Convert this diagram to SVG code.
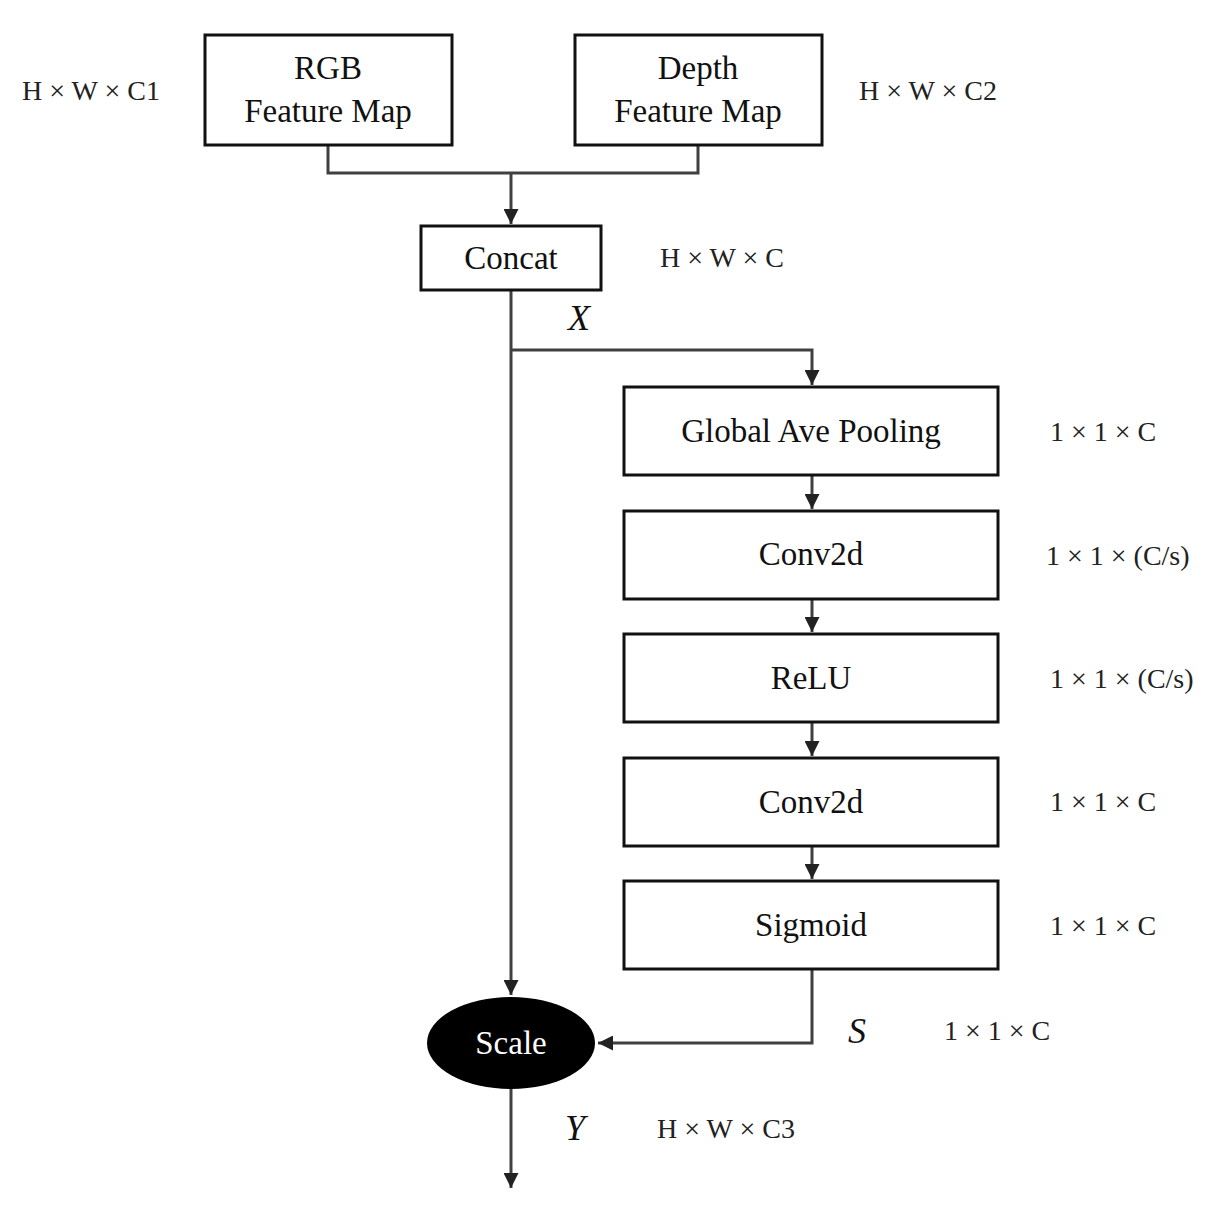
<svg xmlns="http://www.w3.org/2000/svg" width="1227" height="1210" viewBox="0 0 1227 1210">
<style>
.box{fill:#fff;stroke:#111;stroke-width:3}
.t{font-family:"Liberation Serif",serif;font-size:33px;fill:#111;text-anchor:middle}
.d{font-family:"Liberation Serif",serif;font-size:28px;fill:#222}
.v{font-family:"Liberation Serif",serif;font-size:36px;font-style:italic;fill:#111}
.c{fill:none;stroke:#404040;stroke-width:3}
</style>
<defs><marker id="a" viewBox="0 0 10 10" refX="10" refY="5" markerWidth="5" markerHeight="5" orient="auto" markerUnits="strokeWidth"><path d="M0,0L10,5L0,10z" fill="#222"/></marker></defs>
<rect width="1227" height="1210" fill="#fff"/>
<g id="connectors">
<path class="c" d="M328,145V173H698V145"/>
<path class="c" d="M511,173V224" marker-end="url(#a)"/>
<path class="c" d="M511,290V995" marker-end="url(#a)"/>
<path class="c" d="M511,350H812V385" marker-end="url(#a)"/>
<path class="c" d="M812,475V509" marker-end="url(#a)"/>
<path class="c" d="M812,599V632" marker-end="url(#a)"/>
<path class="c" d="M812,722V756" marker-end="url(#a)"/>
<path class="c" d="M812,846V879" marker-end="url(#a)"/>
<path class="c" d="M812,969V1043H598" marker-end="url(#a)"/>
<path class="c" d="M511,1089V1188" marker-end="url(#a)"/>
</g>
<g id="rgb"><rect class="box" x="205" y="35" width="247" height="110"/><text class="t" x="328" y="79">RGB</text><text class="t" x="328" y="122">Feature Map</text></g>
<g id="depth"><rect class="box" x="575" y="35" width="247" height="110"/><text class="t" x="698" y="79">Depth</text><text class="t" x="698" y="122">Feature Map</text></g>
<g id="concat"><rect class="box" x="421" y="226" width="180" height="64"/><text class="t" x="511" y="269">Concat</text></g>
<g id="gap"><rect class="box" x="624" y="387" width="374" height="88"/><text class="t" x="811" y="442">Global Ave Pooling</text></g>
<g id="conv1"><rect class="box" x="624" y="511" width="374" height="88"/><text class="t" x="811" y="565">Conv2d</text></g>
<g id="relu"><rect class="box" x="624" y="634" width="374" height="88"/><text class="t" x="811" y="689">ReLU</text></g>
<g id="conv2"><rect class="box" x="624" y="758" width="374" height="88"/><text class="t" x="811" y="813">Conv2d</text></g>
<g id="sigmoid"><rect class="box" x="624" y="881" width="374" height="88"/><text class="t" x="811" y="936">Sigmoid</text></g>
<g id="scale"><ellipse cx="511" cy="1043" rx="84" ry="46" fill="#000"/><text class="t" x="511" y="1054" style="fill:#fff">Scale</text></g>
<g id="labels">
<text class="d" x="22" y="100">H × W × C1</text>
<text class="d" x="859" y="100">H × W × C2</text>
<text class="d" x="660" y="267">H × W × C</text>
<text class="v" x="568" y="330">X</text>
<text class="d" x="1050" y="441">1 × 1 × C</text>
<text class="d" x="1046" y="565">1 × 1 × (C/s)</text>
<text class="d" x="1050" y="688">1 × 1 × (C/s)</text>
<text class="d" x="1050" y="811">1 × 1 × C</text>
<text class="d" x="1050" y="935">1 × 1 × C</text>
<text class="v" x="848" y="1043">S</text>
<text class="d" x="944" y="1040">1 × 1 × C</text>
<text class="v" x="565" y="1140">Y</text>
<text class="d" x="657" y="1138">H × W × C3</text>
</g>
</svg>
